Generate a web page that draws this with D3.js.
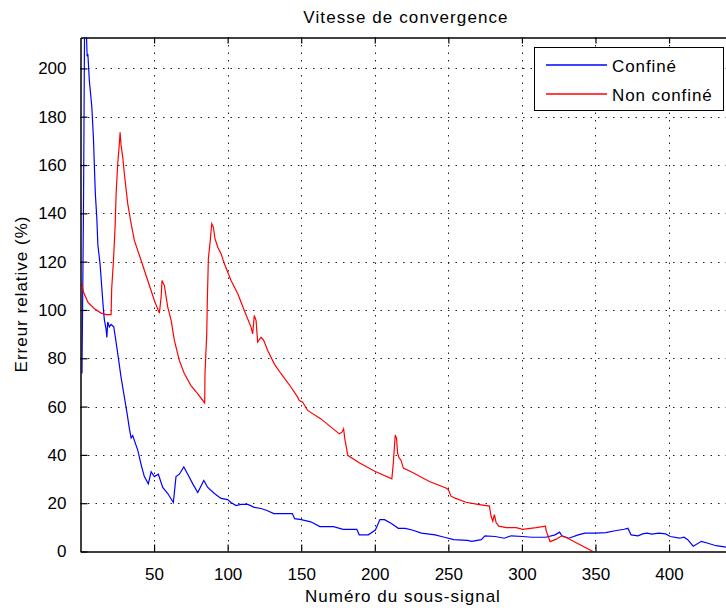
<!DOCTYPE html>
<html>
<head>
<meta charset="utf-8">
<script src="https://cdn.jsdelivr.net/npm/d3@7"></script>
<style>
body { margin: 0; background: #fff; }
text { font-family: "Liberation Sans", Arial, sans-serif; fill: #000; }
</style>
</head>
<body>
<div id="graph-div"></div>
<script>
// sub-signal number and relative error (%)
let confineX = [1, 2, 3, 4, 4.5, 5, 6, 7.7, 8.8, 9.4, 10.1, 11.1, 11.8, 13.3, 14.5, 15.6, 16.2, 17.4, 17.9, 18.5, 19.6, 20.8, 22.6, 23, 25.3, 27.6, 29.8, 31.7, 33.2, 34.4, 35.5, 36.6, 38.9, 41.2, 43.4, 46.1, 48, 50.2, 52.9, 55.9, 59.3, 63.1, 64.9, 67.2, 70.2, 72.9, 76.3, 79.7, 83.8, 86.5, 91, 95.5, 100, 102.3, 105.7, 109.1, 113.7, 118.1, 122.7, 126.7, 131.4, 134.6, 144, 145.5, 150, 156.5, 162.7, 172, 178.4, 187.8, 189.4, 195.6, 200.4, 203.5, 206.6, 211.3, 216, 220.7, 225.4, 231.7, 241, 247.3, 253.6, 263, 266, 272.4, 274.9, 281.8, 288, 292.7, 300.5, 306.8, 316.2, 322.5, 325.6, 327.2, 331.9, 338.2, 342.9, 350.7, 357, 363.3, 369.5, 372, 374.2, 378.9, 382, 385.1, 388.3, 393, 397.7, 400.8, 407.1, 410.2, 412.7, 416.4, 422, 425.8, 432, 437.7, 440]
let confineY = [73.7, 140, 240, 215, 205, 206, 195, 184, 171, 160, 148, 138, 127, 119, 109, 100, 96, 92, 88.6, 95, 93, 94, 93, 91.5, 82, 72, 64, 57, 51, 47, 48, 46, 42, 36, 31, 28, 33, 31, 32, 26.5, 24, 20.3, 31, 32, 35, 32, 28, 24.4, 29.4, 26.5, 24, 22, 21.5, 20.3, 19, 19.5, 19.5, 18.3, 17.8, 17, 15.7, 15.7, 15.7, 13.6, 13.2, 12.3, 10.3, 10.3, 9.2, 9.2, 6.9, 6.9, 8.9, 13.2, 13.2, 11.6, 9.6, 9.6, 8.9, 7.6, 6.9, 5.9, 4.9, 4.6, 4.2, 4.9, 6.5, 6.2, 5.5, 6.5, 6.2, 5.9, 5.9, 6.9, 8, 6.5, 5.5, 6.9, 7.6, 7.6, 7.8, 8.6, 9.2, 9.6, 6.9, 6.5, 7.3, 7.6, 7.2, 7.6, 7.3, 6.2, 5.5, 5.9, 4.9, 2.2, 4.2, 3.5, 2.4, 1.9, 1.6]

let nonConfineX = [1, 2, 5, 9.5, 14, 17.4, 20.8, 21.2, 22.4, 23.5, 24.2, 25.3, 26.4, 26.9, 27.6, 28.7, 29.8, 32.1, 34.4, 36.6, 41.2, 45.7, 50.2, 53.6, 54.8, 55.4, 57, 59.3, 61.6, 63.8, 67.2, 70.6, 75.1, 79.7, 84.4, 84.6, 85.8, 86.2, 86.9, 88.2, 89.2, 90.3, 91.4, 93.3, 95.5, 97.8, 102.3, 106.9, 111.3, 115.9, 117, 118.1, 119.3, 120.4, 122.7, 124.5, 127.2, 131.7, 136.3, 143.1, 147.6, 148.7, 151, 154.4, 163.4, 175.9, 177.7, 178.8, 179.8, 180.9, 181.6, 190, 200, 211.6, 212.6, 213.9, 214.8, 215.5, 216.6, 217.8, 219.4, 225.7, 237.1, 248.4, 250, 251.8, 254.1, 262, 270, 277.9, 279, 280.2, 281.3, 282.5, 284.3, 289.3, 296.1, 300.6, 309.7, 316, 316.5, 319.2, 323.3, 326.7, 330.1, 348.3, 350]
let nonConfineY = [110.8, 107.4, 103.2, 100.5, 98.7, 98.1, 98.1, 108.9, 120.5, 134.3, 148, 160.5, 168.8, 173.6, 168, 163.3, 156.4, 144, 135.7, 128.8, 120.5, 112.2, 103.9, 98.7, 105.3, 112.2, 110.1, 101.2, 95.7, 87.4, 79, 73.6, 68.7, 65.3, 61.5, 73.6, 90.1, 104, 121.2, 128.8, 135.7, 134.3, 129.5, 126, 123.3, 119.1, 112.2, 106.7, 99.8, 92.9, 90.1, 97.7, 95.7, 86.7, 88.7, 87.4, 83.2, 77.7, 73.6, 68, 63.9, 62.5, 61.8, 58.4, 54.9, 48.7, 49.4, 50.8, 46, 42.5, 39.8, 36.5, 33.2, 30.1, 36.6, 48.2, 46.8, 40.7, 38.6, 37.9, 34.5, 32.7, 29, 26.3, 25.6, 22.9, 22.2, 20.4, 19.5, 18.8, 14.7, 12.6, 15.3, 11.9, 10.5, 9.9, 9.9, 9.2, 9.9, 10.5, 8.5, 4.1, 5.1, 6.4, 5.8, 0, -0.5]

let xTicks = [50, 100, 150, 200, 250, 300, 350, 400]
let yTicks = [0, 20, 40, 60, 80, 100, 120, 140, 160, 180, 200]
let seriesNames = ["Confiné", "Non confiné"]
let seriesColors = ["#0000ff", "#ff0000"]

function drawChart(){
    let width = 726
    let height = 608
    let left = 80.5
    let top = 37.5
    let bottom = 551.5

    let svg = d3.select("#graph-div")
                .append("svg")
                .attr("width", width)
                .attr("height", height)

    let x = d3.scaleLinear().domain([0, 440]).range([left, left + 440 * 1.4714])
    let y = d3.scaleLinear().domain([0, 212.8]).range([bottom, top])
    let right = x(440)

    svg.append("clipPath").attr("id", "plot-clip")
        .append("rect")
        .attr("x", left).attr("y", top)
        .attr("width", right - left).attr("height", bottom - top)

    // dotted grid
    let grid = svg.append("g")
    grid.selectAll(".vgrid").data(xTicks).enter().append("line")
        .attr("x1", d => Math.round(x(d)) + 0.5).attr("x2", d => Math.round(x(d)) + 0.5)
        .attr("y1", top).attr("y2", bottom)
        .attr("stroke", "#222").attr("stroke-width", 1)
        .attr("stroke-dasharray", "1.5,6")
    grid.selectAll(".hgrid").data(yTicks.filter(d => d > 0)).enter().append("line")
        .attr("x1", left).attr("x2", right)
        .attr("y1", d => Math.round(y(d)) + 0.5).attr("y2", d => Math.round(y(d)) + 0.5)
        .attr("stroke", "#222").attr("stroke-width", 1)
        .attr("stroke-dasharray", "1.5,6")

    // series
    let line = d3.line().x(d => x(d[0])).y(d => y(d[1]))
    let blue = d3.zip(confineX, confineY)
    let red = d3.zip(nonConfineX, nonConfineY)
    let plot = svg.append("g").attr("clip-path", "url(#plot-clip)")
    plot.append("path").datum(blue).attr("d", line)
        .attr("fill", "none").attr("stroke", seriesColors[0]).attr("stroke-width", 1.2)
    plot.append("path").datum(red).attr("d", line)
        .attr("fill", "none").attr("stroke", seriesColors[1]).attr("stroke-width", 1.2)

    // axes with inward ticks
    let xAxis = d3.axisBottom(x).tickValues(xTicks).tickSizeInner(-7).tickSizeOuter(0).tickPadding(16)
    let gx = svg.append("g").attr("transform", `translate(0,${bottom})`).call(xAxis)
    let xTop = d3.axisTop(x).tickValues(xTicks).tickSizeInner(-6).tickSizeOuter(0).tickFormat("")
    let gxt = svg.append("g").attr("transform", `translate(0,${top})`).call(xTop)
    let yAxis = d3.axisLeft(y).tickValues(yTicks).tickSizeInner(-7).tickSizeOuter(0).tickPadding(14)
    let gy = svg.append("g").attr("transform", `translate(${left},0)`).call(yAxis)

    for (let g of [gx, gxt, gy]){
        g.select(".domain").attr("stroke", "#000").attr("stroke-width", 1.5)
        g.selectAll(".tick line").attr("stroke", "#000").attr("stroke-width", 1.2)
        g.selectAll("text").attr("font-size", 17).attr("fill", "#000")
            .attr("font-family", "Liberation Sans, Arial, sans-serif")
    }

    // titles
    svg.append("text").attr("x", 406).attr("y", 23)
        .attr("text-anchor", "middle").attr("font-size", 17).attr("letter-spacing", 1.1)
        .text("Vitesse de convergence")
    svg.append("text").attr("x", 403).attr("y", 602)
        .attr("text-anchor", "middle").attr("font-size", 17).attr("letter-spacing", 1)
        .text("Numéro du sous-signal")
    svg.append("text").attr("transform", "translate(27,294) rotate(-90)")
        .attr("text-anchor", "middle").attr("font-size", 17).attr("letter-spacing", 1)
        .text("Erreur relative (%)")

    // legend
    let legend = svg.append("g")
    legend.append("rect").attr("x", 534.5).attr("y", 47.5).attr("width", 189).attr("height", 63)
        .attr("fill", "#fff").attr("stroke", "#000").attr("stroke-width", 1)
    let rows = [65, 94]
    seriesNames.forEach((name, i) => {
        legend.append("line").attr("x1", 546).attr("x2", 607)
            .attr("y1", rows[i]).attr("y2", rows[i])
            .attr("stroke", seriesColors[i]).attr("stroke-width", 1.5)
        legend.append("text").attr("x", 612).attr("y", rows[i] + 7)
            .attr("font-size", 17).attr("letter-spacing", 0.9)
            .text(name)
    })
}

drawChart()
</script>
</body>
</html>
